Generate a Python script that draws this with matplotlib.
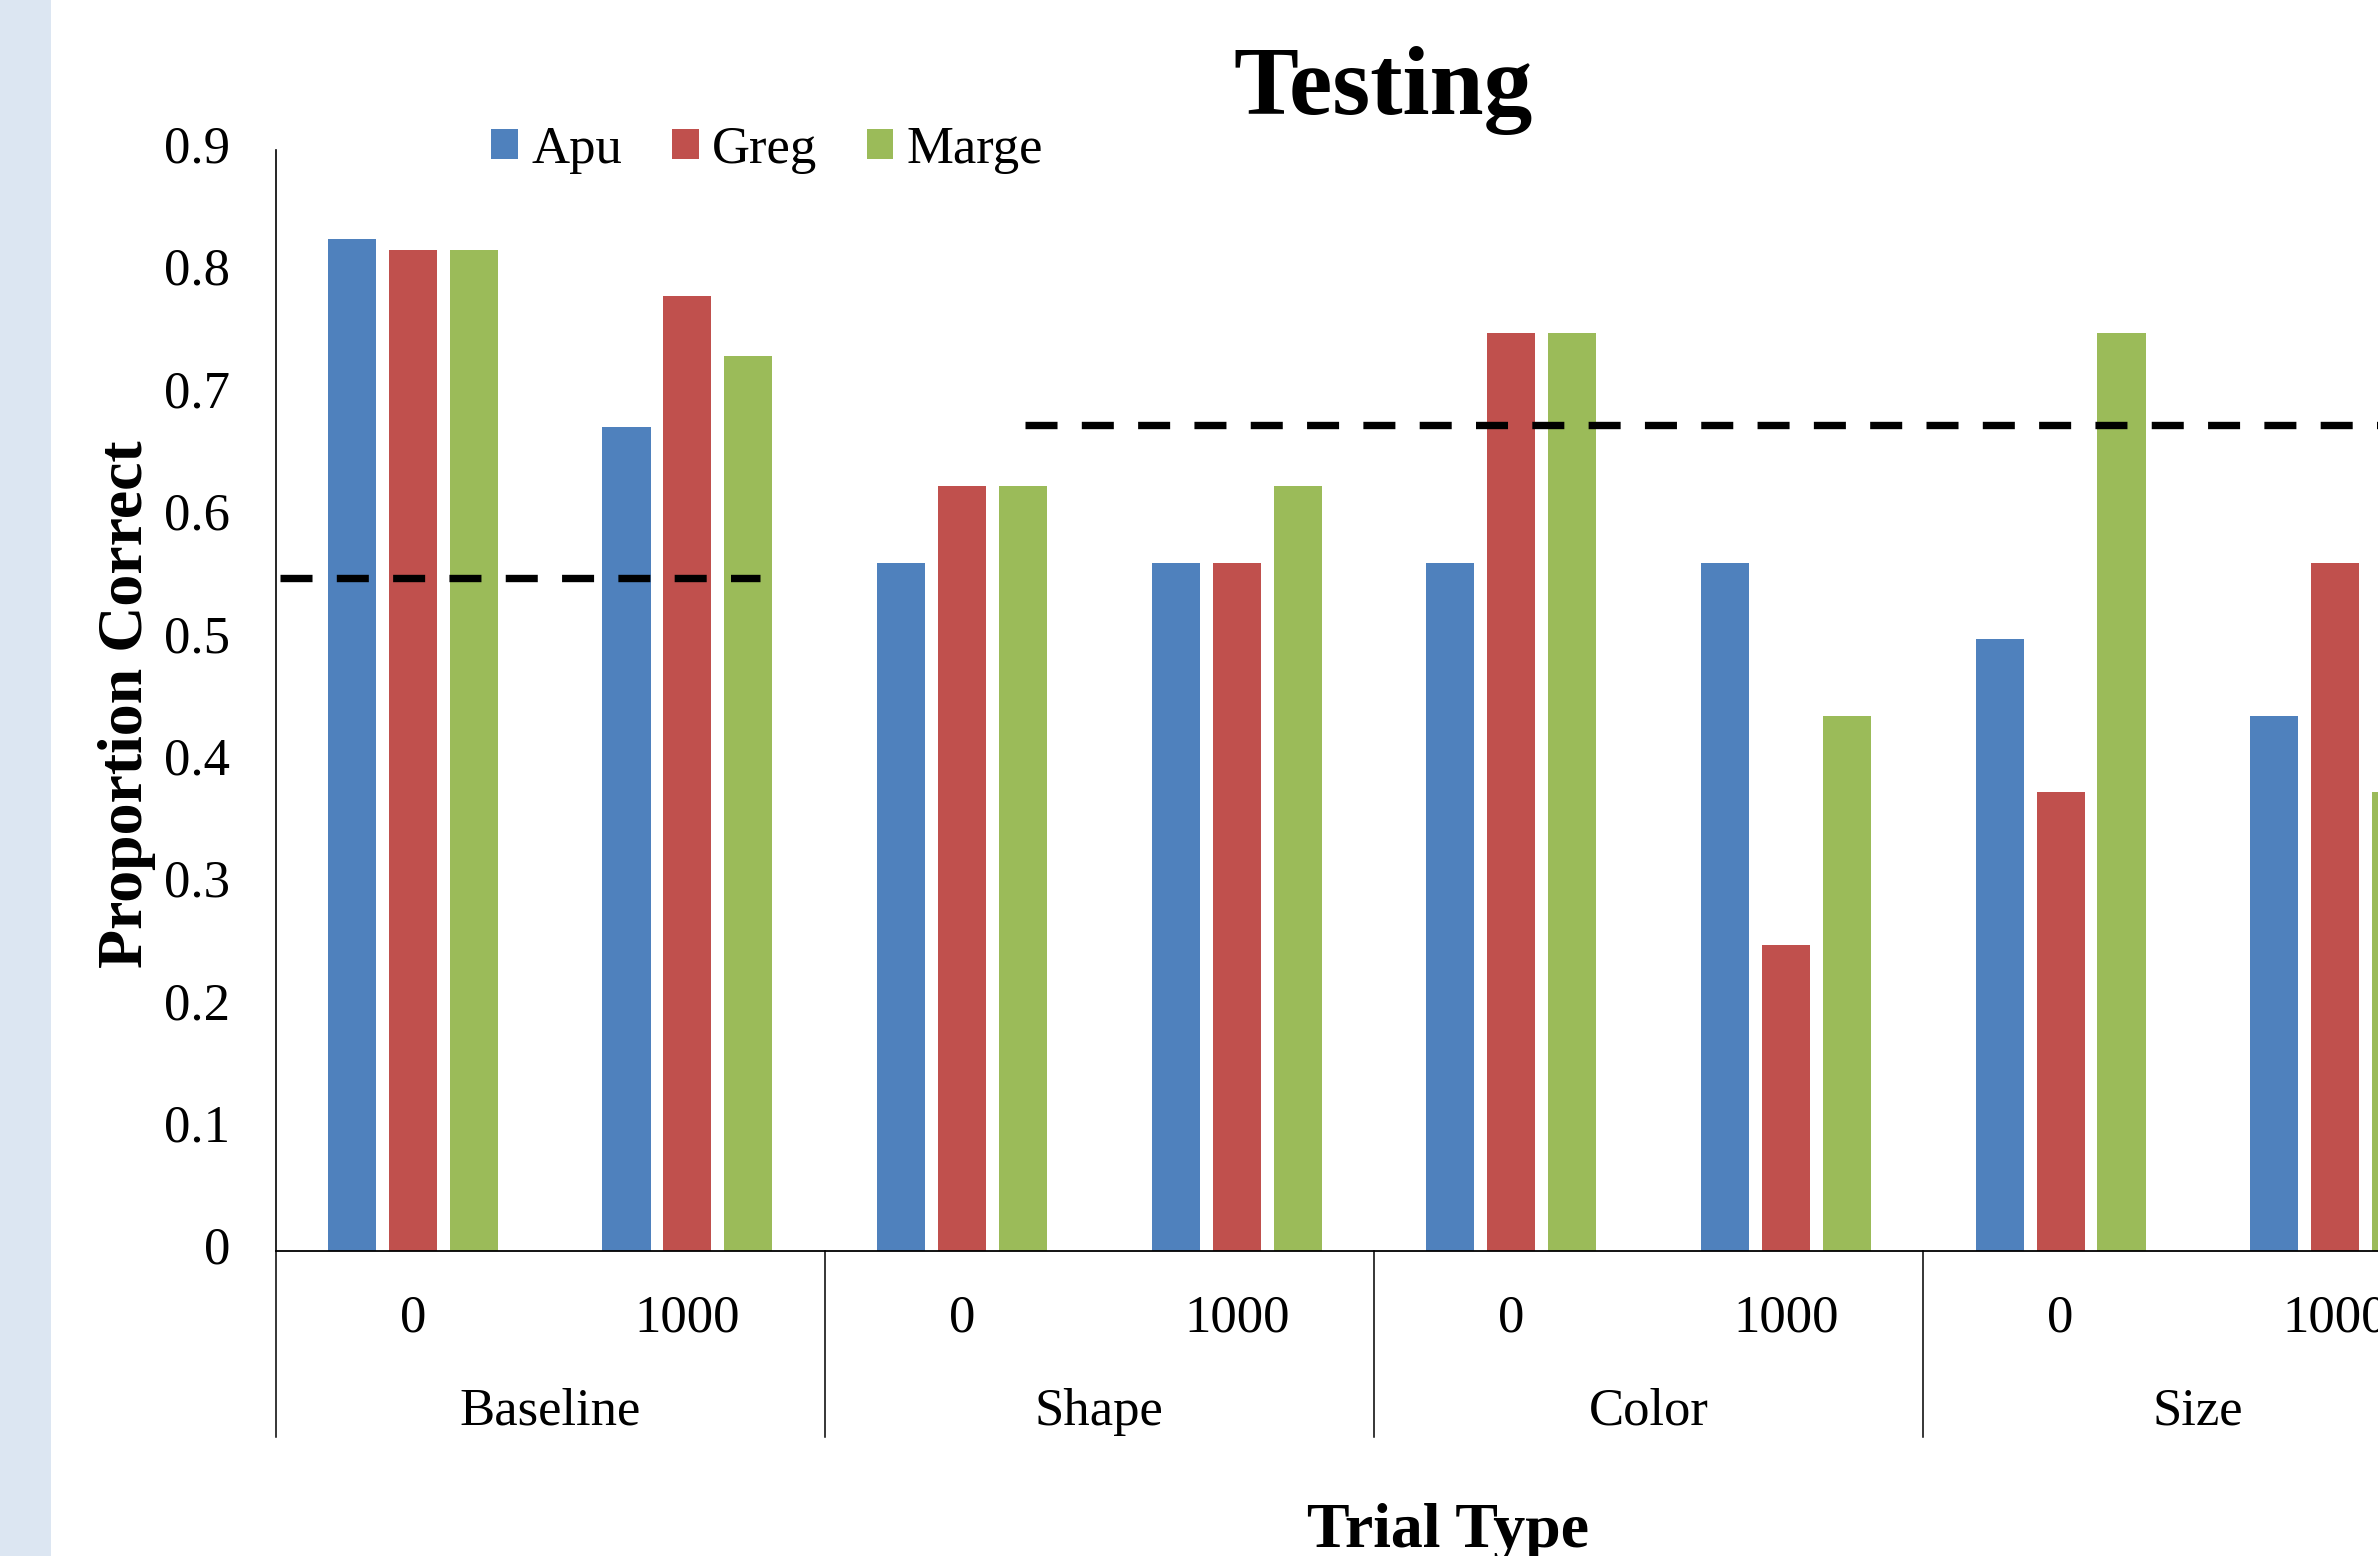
import matplotlib
matplotlib.use("Agg")
import matplotlib.pyplot as plt
import matplotlib.transforms as mtransforms
from matplotlib.patches import Patch, Rectangle
import numpy as np

plt.rcParams['font.family'] = ['Liberation Serif', 'DejaVu Serif']

# proportion correct per trial type / delay
categories = ['Baseline', 'Shape', 'Color', 'Size']
delays = ['0', '1000']
apu = [0.827, 0.673, 0.5625, 0.5625, 0.5625, 0.5625, 0.5, 0.4375]
greg = [0.818, 0.78, 0.625, 0.5625, 0.75, 0.25, 0.375, 0.5625]
marge = [0.818, 0.731, 0.625, 0.625, 0.75, 0.4375, 0.75, 0.375]
names = ['Apu', 'Greg', 'Marge']
colors = ['#4F81BD', '#C0504D', '#9BBB59']
chance = [0.55, 0.675]
yticks = [0, 0.1, 0.2, 0.3, 0.4, 0.5, 0.6, 0.7, 0.8, 0.9]

W, H = 2378, 1556
fig = plt.figure(figsize=(W / 100, H / 100), dpi=100)
fig.patches.append(Rectangle((0, 0), 51 / W, 1, transform=fig.transFigure,
                             facecolor='#DCE6F2', edgecolor='none', zorder=0))

# axes run past the right edge of the figure
ax = fig.add_axes([275.5 / W, 305 / H, 2197 / W, 1101.4 / H])
ax.set_xlim(0, 8)
ax.set_ylim(0, 0.9)

n = len(apu)
x = np.arange(n) + 0.5
pitch = 0.222
width = 0.175
for i, (vals, c) in enumerate(zip([apu, greg, marge], colors)):
    ax.bar(x + (i - 1) * pitch, vals, width, color=c, edgecolor='none', zorder=2)

# chance levels
ax.plot([0.018, 1.765], [chance[0]] * 2, color='black', lw=5.3,
        dashes=(4.35, 3.3), solid_capstyle='butt', zorder=3)
ax.plot([2.73, 8.0], [chance[1]] * 2, color='black', lw=5.3,
        dashes=(4.35, 3.3), solid_capstyle='butt', zorder=3)

for s in ['top', 'right']:
    ax.spines[s].set_visible(False)
ax.spines['left'].set_linewidth(1.2)
ax.spines['bottom'].set_linewidth(1.3)

ax.set_yticks(yticks)
ax.set_yticklabels([f'{t:g}' for t in yticks])
ax.tick_params(axis='y', length=0, pad=32.5, labelsize=38)
for lab in ax.get_yticklabels():
    lab.set_va('center')
ax.set_xticks([])

trans = mtransforms.blended_transform_factory(ax.transData, ax.transAxes)
for k in range(n):
    ax.text(x[k], -81 / 1101.4, delays[k % 2], transform=trans,
            ha='center', va='baseline', fontsize=38)
for j, cat in enumerate(categories):
    ax.text(2 * j + 1, -173.5 / 1101.4, cat, transform=trans,
            ha='center', va='baseline', fontsize=38)
for xs in range(0, 9, 2):
    ax.plot([xs, xs], [0, -185.7 / 1101.4], color='black', lw=1.1,
            transform=trans, clip_on=False)

fig.text(1383 / W, 1 - 114 / H, 'Testing', ha='center', va='baseline',
         fontsize=70, fontweight='bold')
fig.text(1448 / W, 1 - 1547 / H, 'Trial Type', ha='center', va='baseline',
         fontsize=46, fontweight='bold')
fig.text(142 / W, 1 - 704 / H, 'Proportion Correct', rotation=90,
         rotation_mode='anchor', ha='center', va='baseline',
         fontsize=46, fontweight='bold')

handles = [Patch(facecolor=c, edgecolor='none') for c in colors]
fig.legend(handles, names, loc='center left', ncol=3, frameon=False,
           bbox_to_anchor=(491 / W, 1 - 150 / H), bbox_transform=fig.transFigure,
           fontsize=38, handlelength=0.51, handleheight=0.51,
           handletextpad=0.25, columnspacing=0.94, borderpad=0,
           borderaxespad=0)

fig.savefig('out.png', dpi=100, facecolor='white')
